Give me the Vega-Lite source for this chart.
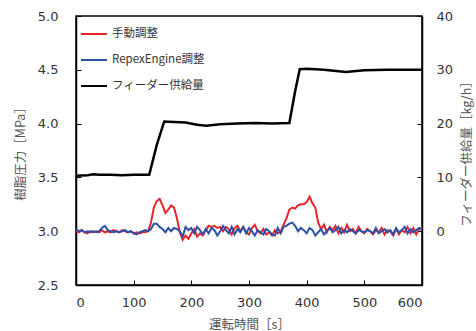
{
  "$schema": "https://vega.github.io/schema/vega-lite/v6.json",
  "width": 346,
  "height": 269,
  "autosize": {"type": "none"},
  "padding": {"left": 76, "top": 16, "right": 54, "bottom": 46},
  "background": "white",
  "config": {
    "view": {"stroke": "#000", "strokeWidth": 1.5},
    "axis": {
      "grid": false,
      "domainColor": "#000",
      "domainWidth": 1.5,
      "tickColor": "#000",
      "tickWidth": 1,
      "labelFont": "DejaVu Sans",
      "labelFontSize": 13,
      "labelColor": "#333",
      "titleFont": "Noto Sans CJK JP",
      "titleFontSize": 12.5,
      "titleFontWeight": "normal",
      "titleColor": "#555"
    },
    "legend": {
      "labelFont": "Noto Sans CJK JP",
      "labelFontSize": 11.5,
      "labelColor": "#333"
    }
  },
  "datasets": {
    "pressure": [
      {"t":0,"s":"手動調整","v":3.00},{"t":5,"s":"手動調整","v":2.99},{"t":10,"s":"手動調整","v":3.01},{"t":15,"s":"手動調整","v":2.99},{"t":20,"s":"手動調整","v":2.98},{"t":25,"s":"手動調整","v":3.00},{"t":30,"s":"手動調整","v":2.99},{"t":35,"s":"手動調整","v":3.00},{"t":40,"s":"手動調整","v":2.99},{"t":45,"s":"手動調整","v":3.01},{"t":50,"s":"手動調整","v":2.99},{"t":55,"s":"手動調整","v":3.00},{"t":60,"s":"手動調整","v":2.99},{"t":65,"s":"手動調整","v":3.01},{"t":70,"s":"手動調整","v":3.00},{"t":75,"s":"手動調整","v":2.99},{"t":80,"s":"手動調整","v":3.01},{"t":85,"s":"手動調整","v":3.00},{"t":90,"s":"手動調整","v":2.99},{"t":95,"s":"手動調整","v":3.00},{"t":100,"s":"手動調整","v":2.98},{"t":105,"s":"手動調整","v":2.99},{"t":110,"s":"手動調整","v":2.98},{"t":115,"s":"手動調整","v":2.99},{"t":120,"s":"手動調整","v":2.99},{"t":125,"s":"手動調整","v":3.00},{"t":130,"s":"手動調整","v":3.08},{"t":135,"s":"手動調整","v":3.22},{"t":140,"s":"手動調整","v":3.28},{"t":145,"s":"手動調整","v":3.30},{"t":150,"s":"手動調整","v":3.24},{"t":155,"s":"手動調整","v":3.17},{"t":160,"s":"手動調整","v":3.20},{"t":165,"s":"手動調整","v":3.24},{"t":170,"s":"手動調整","v":3.22},{"t":175,"s":"手動調整","v":3.12},{"t":180,"s":"手動調整","v":2.99},{"t":185,"s":"手動調整","v":2.92},{"t":190,"s":"手動調整","v":2.96},{"t":195,"s":"手動調整","v":2.93},{"t":200,"s":"手動調整","v":2.98},{"t":205,"s":"手動調整","v":3.02},{"t":210,"s":"手動調整","v":2.95},{"t":215,"s":"手動調整","v":2.98},{"t":220,"s":"手動調整","v":2.96},{"t":225,"s":"手動調整","v":3.01},{"t":230,"s":"手動調整","v":3.05},{"t":235,"s":"手動調整","v":3.04},{"t":240,"s":"手動調整","v":3.05},{"t":245,"s":"手動調整","v":3.03},{"t":250,"s":"手動調整","v":3.04},{"t":255,"s":"手動調整","v":3.00},{"t":260,"s":"手動調整","v":3.04},{"t":265,"s":"手動調整","v":3.02},{"t":270,"s":"手動調整","v":2.97},{"t":275,"s":"手動調整","v":3.03},{"t":280,"s":"手動調整","v":3.05},{"t":285,"s":"手動調整","v":3.00},{"t":290,"s":"手動調整","v":3.04},{"t":295,"s":"手動調整","v":2.99},{"t":300,"s":"手動調整","v":2.97},{"t":305,"s":"手動調整","v":3.03},{"t":310,"s":"手動調整","v":3.06},{"t":315,"s":"手動調整","v":3.00},{"t":320,"s":"手動調整","v":2.98},{"t":325,"s":"手動調整","v":3.02},{"t":330,"s":"手動調整","v":2.97},{"t":335,"s":"手動調整","v":2.99},{"t":340,"s":"手動調整","v":2.96},{"t":345,"s":"手動調整","v":3.01},{"t":350,"s":"手動調整","v":2.98},{"t":355,"s":"手動調整","v":3.00},{"t":360,"s":"手動調整","v":3.06},{"t":365,"s":"手動調整","v":3.12},{"t":370,"s":"手動調整","v":3.20},{"t":375,"s":"手動調整","v":3.22},{"t":380,"s":"手動調整","v":3.21},{"t":385,"s":"手動調整","v":3.24},{"t":390,"s":"手動調整","v":3.25},{"t":395,"s":"手動調整","v":3.25},{"t":400,"s":"手動調整","v":3.27},{"t":405,"s":"手動調整","v":3.32},{"t":410,"s":"手動調整","v":3.26},{"t":415,"s":"手動調整","v":3.22},{"t":420,"s":"手動調整","v":3.08},{"t":425,"s":"手動調整","v":3.02},{"t":430,"s":"手動調整","v":3.06},{"t":435,"s":"手動調整","v":2.99},{"t":440,"s":"手動調整","v":3.04},{"t":445,"s":"手動調整","v":3.01},{"t":450,"s":"手動調整","v":3.05},{"t":455,"s":"手動調整","v":2.98},{"t":460,"s":"手動調整","v":3.03},{"t":465,"s":"手動調整","v":2.99},{"t":470,"s":"手動調整","v":3.06},{"t":475,"s":"手動調整","v":3.00},{"t":480,"s":"手動調整","v":3.02},{"t":485,"s":"手動調整","v":2.98},{"t":490,"s":"手動調整","v":3.04},{"t":495,"s":"手動調整","v":3.00},{"t":500,"s":"手動調整","v":2.98},{"t":505,"s":"手動調整","v":3.02},{"t":510,"s":"手動調整","v":3.00},{"t":515,"s":"手動調整","v":2.97},{"t":520,"s":"手動調整","v":3.01},{"t":525,"s":"手動調整","v":2.99},{"t":530,"s":"手動調整","v":3.03},{"t":535,"s":"手動調整","v":2.97},{"t":540,"s":"手動調整","v":3.01},{"t":545,"s":"手動調整","v":3.00},{"t":550,"s":"手動調整","v":2.96},{"t":555,"s":"手動調整","v":3.02},{"t":560,"s":"手動調整","v":2.97},{"t":565,"s":"手動調整","v":3.01},{"t":570,"s":"手動調整","v":2.99},{"t":575,"s":"手動調整","v":3.04},{"t":580,"s":"手動調整","v":2.98},{"t":585,"s":"手動調整","v":3.03},{"t":590,"s":"手動調整","v":2.97},{"t":595,"s":"手動調整","v":3.02},{"t":600,"s":"手動調整","v":3.03},
      {"t":0,"s":"RepexEngine調整","v":3.02},{"t":5,"s":"RepexEngine調整","v":3.00},{"t":10,"s":"RepexEngine調整","v":3.01},{"t":15,"s":"RepexEngine調整","v":2.99},{"t":20,"s":"RepexEngine調整","v":3.00},{"t":25,"s":"RepexEngine調整","v":2.99},{"t":30,"s":"RepexEngine調整","v":3.00},{"t":35,"s":"RepexEngine調整","v":2.99},{"t":40,"s":"RepexEngine調整","v":3.00},{"t":45,"s":"RepexEngine調整","v":3.03},{"t":50,"s":"RepexEngine調整","v":3.05},{"t":55,"s":"RepexEngine調整","v":3.01},{"t":60,"s":"RepexEngine調整","v":3.00},{"t":65,"s":"RepexEngine調整","v":2.99},{"t":70,"s":"RepexEngine調整","v":3.00},{"t":75,"s":"RepexEngine調整","v":2.99},{"t":80,"s":"RepexEngine調整","v":3.00},{"t":85,"s":"RepexEngine調整","v":3.01},{"t":90,"s":"RepexEngine調整","v":2.99},{"t":95,"s":"RepexEngine調整","v":3.00},{"t":100,"s":"RepexEngine調整","v":2.98},{"t":105,"s":"RepexEngine調整","v":2.97},{"t":110,"s":"RepexEngine調整","v":2.99},{"t":115,"s":"RepexEngine調整","v":3.00},{"t":120,"s":"RepexEngine調整","v":3.01},{"t":125,"s":"RepexEngine調整","v":3.00},{"t":130,"s":"RepexEngine調整","v":3.02},{"t":135,"s":"RepexEngine調整","v":3.07},{"t":140,"s":"RepexEngine調整","v":3.07},{"t":145,"s":"RepexEngine調整","v":3.04},{"t":150,"s":"RepexEngine調整","v":3.02},{"t":155,"s":"RepexEngine調整","v":2.99},{"t":160,"s":"RepexEngine調整","v":3.03},{"t":165,"s":"RepexEngine調整","v":3.00},{"t":170,"s":"RepexEngine調整","v":3.03},{"t":175,"s":"RepexEngine調整","v":3.02},{"t":180,"s":"RepexEngine調整","v":3.00},{"t":185,"s":"RepexEngine調整","v":2.95},{"t":190,"s":"RepexEngine調整","v":3.04},{"t":195,"s":"RepexEngine調整","v":3.01},{"t":200,"s":"RepexEngine調整","v":3.03},{"t":205,"s":"RepexEngine調整","v":2.98},{"t":210,"s":"RepexEngine調整","v":3.04},{"t":215,"s":"RepexEngine調整","v":3.01},{"t":220,"s":"RepexEngine調整","v":2.97},{"t":225,"s":"RepexEngine調整","v":3.02},{"t":230,"s":"RepexEngine調整","v":2.98},{"t":235,"s":"RepexEngine調整","v":3.03},{"t":240,"s":"RepexEngine調整","v":3.01},{"t":245,"s":"RepexEngine調整","v":2.96},{"t":250,"s":"RepexEngine調整","v":3.00},{"t":255,"s":"RepexEngine調整","v":3.05},{"t":260,"s":"RepexEngine調整","v":3.01},{"t":265,"s":"RepexEngine調整","v":2.98},{"t":270,"s":"RepexEngine調整","v":3.04},{"t":275,"s":"RepexEngine調整","v":2.97},{"t":280,"s":"RepexEngine調整","v":3.02},{"t":285,"s":"RepexEngine調整","v":2.99},{"t":290,"s":"RepexEngine調整","v":3.04},{"t":295,"s":"RepexEngine調整","v":2.98},{"t":300,"s":"RepexEngine調整","v":3.03},{"t":305,"s":"RepexEngine調整","v":3.00},{"t":310,"s":"RepexEngine調整","v":2.96},{"t":315,"s":"RepexEngine調整","v":3.01},{"t":320,"s":"RepexEngine調整","v":2.99},{"t":325,"s":"RepexEngine調整","v":2.97},{"t":330,"s":"RepexEngine調整","v":3.02},{"t":335,"s":"RepexEngine調整","v":3.00},{"t":340,"s":"RepexEngine調整","v":2.97},{"t":345,"s":"RepexEngine調整","v":2.96},{"t":350,"s":"RepexEngine調整","v":3.03},{"t":355,"s":"RepexEngine調整","v":2.98},{"t":360,"s":"RepexEngine調整","v":3.04},{"t":365,"s":"RepexEngine調整","v":3.05},{"t":370,"s":"RepexEngine調整","v":3.07},{"t":375,"s":"RepexEngine調整","v":3.08},{"t":380,"s":"RepexEngine調整","v":3.05},{"t":385,"s":"RepexEngine調整","v":3.00},{"t":390,"s":"RepexEngine調整","v":3.03},{"t":395,"s":"RepexEngine調整","v":3.01},{"t":400,"s":"RepexEngine調整","v":2.98},{"t":405,"s":"RepexEngine調整","v":3.03},{"t":410,"s":"RepexEngine調整","v":3.01},{"t":415,"s":"RepexEngine調整","v":2.96},{"t":420,"s":"RepexEngine調整","v":2.99},{"t":425,"s":"RepexEngine調整","v":3.02},{"t":430,"s":"RepexEngine調整","v":2.97},{"t":435,"s":"RepexEngine調整","v":3.00},{"t":440,"s":"RepexEngine調整","v":3.03},{"t":445,"s":"RepexEngine調整","v":2.99},{"t":450,"s":"RepexEngine調整","v":3.01},{"t":455,"s":"RepexEngine調整","v":3.04},{"t":460,"s":"RepexEngine調整","v":2.98},{"t":465,"s":"RepexEngine調整","v":3.01},{"t":470,"s":"RepexEngine調整","v":2.99},{"t":475,"s":"RepexEngine調整","v":3.02},{"t":480,"s":"RepexEngine調整","v":3.00},{"t":485,"s":"RepexEngine調整","v":2.98},{"t":490,"s":"RepexEngine調整","v":3.01},{"t":495,"s":"RepexEngine調整","v":3.00},{"t":500,"s":"RepexEngine調整","v":2.99},{"t":505,"s":"RepexEngine調整","v":3.01},{"t":510,"s":"RepexEngine調整","v":3.00},{"t":515,"s":"RepexEngine調整","v":2.98},{"t":520,"s":"RepexEngine調整","v":3.03},{"t":525,"s":"RepexEngine調整","v":2.98},{"t":530,"s":"RepexEngine調整","v":3.00},{"t":535,"s":"RepexEngine調整","v":3.02},{"t":540,"s":"RepexEngine調整","v":2.99},{"t":545,"s":"RepexEngine調整","v":3.01},{"t":550,"s":"RepexEngine調整","v":2.97},{"t":555,"s":"RepexEngine調整","v":3.03},{"t":560,"s":"RepexEngine調整","v":2.99},{"t":565,"s":"RepexEngine調整","v":3.01},{"t":570,"s":"RepexEngine調整","v":3.04},{"t":575,"s":"RepexEngine調整","v":2.98},{"t":580,"s":"RepexEngine調整","v":3.02},{"t":585,"s":"RepexEngine調整","v":2.99},{"t":590,"s":"RepexEngine調整","v":3.01},{"t":595,"s":"RepexEngine調整","v":3.03},{"t":600,"s":"RepexEngine調整","v":3.01}
    ],
    "feeder": [
      {"t":0,"kg":10.3},{"t":20,"kg":10.4},{"t":30,"kg":10.6},{"t":40,"kg":10.5},{"t":60,"kg":10.5},{"t":80,"kg":10.4},{"t":100,"kg":10.5},{"t":127,"kg":10.5},{"t":140,"kg":16.0},{"t":153,"kg":20.4},{"t":170,"kg":20.3},{"t":190,"kg":20.2},{"t":210,"kg":19.8},{"t":226,"kg":19.6},{"t":250,"kg":19.9},{"t":280,"kg":20.0},{"t":310,"kg":20.1},{"t":340,"kg":20.0},{"t":370,"kg":20.1},{"t":380,"kg":26.0},{"t":388,"kg":30.1},{"t":400,"kg":30.2},{"t":430,"kg":30.0},{"t":468,"kg":29.6},{"t":500,"kg":29.9},{"t":540,"kg":30.0},{"t":570,"kg":30.0},{"t":600,"kg":30.0}
    ]
  },
  "layer": [
    {
      "data": {"name": "pressure"},
      "mark": {"type": "line", "strokeWidth": 2, "clip": true},
      "encoding": {
        "x": {"field": "t", "type": "quantitative", "scale": {"domain": [0, 600], "nice": false},
          "axis": {"title": "運転時間［s］", "values": [0,100,200,300,400,500,600], "tickSize": -5, "labelPadding": 16, "titlePadding": 9}},
        "y": {"field": "v", "type": "quantitative", "scale": {"domain": [2.5, 5.0], "nice": false, "zero": false},
          "axis": {"title": "樹脂圧力［MPa］", "values": [2.5,3.0,3.5,4.0,4.5,5.0], "format": ".1f", "tickSize": -5, "labelPadding": 23, "titlePadding": 10}},
        "color": {"field": "s", "type": "nominal",
          "scale": {"domain": ["手動調整", "RepexEngine調整", "フィーダー供給量"], "range": ["#e8242b", "#2a52a8", "#000000"]},
          "legend": {"title": null, "orient": "top-left", "offset": 4, "symbolType": "stroke", "symbolSize": 676, "symbolStrokeWidth": 2, "labelOffset": 4, "rowPadding": 6}},
        "detail": {"field": "s"}
      }
    },
    {
      "data": {"name": "feeder"},
      "mark": {"type": "line", "strokeWidth": 2.5, "clip": true},
      "encoding": {
        "x": {"field": "t", "type": "quantitative"},
        "y": {"field": "kg", "type": "quantitative", "scale": {"domain": [-10, 40], "nice": false, "zero": false},
          "axis": {"orient": "right", "title": "フィーダー供給量［kg/h］", "titleAngle": 270, "values": [0,10,20,30,40], "tickSize": -5, "labelPadding": 19, "titlePadding": 21}},
        "color": {"datum": "フィーダー供給量", "type": "nominal"}
      }
    }
  ],
  "resolve": {"scale": {"y": "independent"}}
}
